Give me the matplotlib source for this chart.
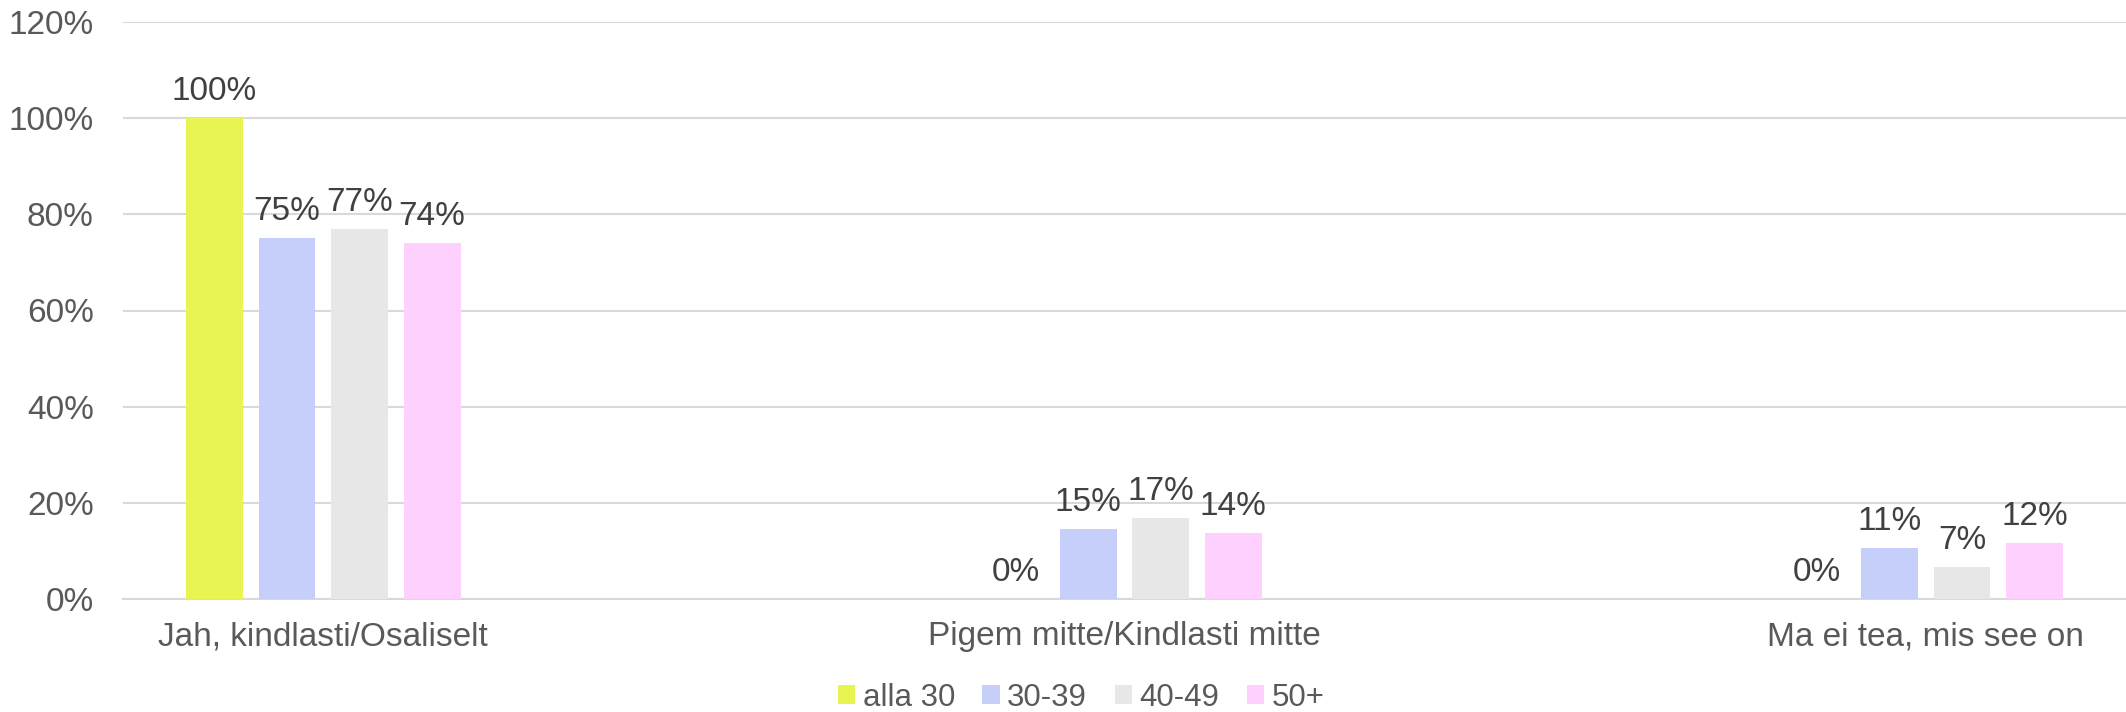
import numpy as np
import matplotlib.pyplot as plt

categories = ["Jah, kindlasti/Osaliselt", "Pigem mitte/Kindlasti mitte", "Ma ei tea, mis see on"]
groups = ["alla 30", "30-39", "40-49", "50+"]
alla_30 = [100, 0, 0]
age_30_39 = [75, 14.6, 10.6]
age_40_49 = [77, 16.8, 6.6]
age_50_plus = [74, 13.7, 11.6]
series = [alla_30, age_30_39, age_40_49, age_50_plus]
colors = ["#E8F452", "#C6CEFA", "#E7E7E7", "#FDD0FD"]

plt.rcParams['font.family'] = ['Liberation Sans', 'DejaVu Sans']

fig = plt.figure(figsize=(21.26, 7.12), dpi=100)
ax = fig.add_axes([123 / 2126, 1 - 599 / 712, (2126 - 123) / 2126, (599 - 22) / 712])

x = np.arange(len(categories))
width = 0.071
step = 0.0906
for i, (vals, col, name) in enumerate(zip(series, colors, groups)):
    pos = x + (i - 1.5) * step
    bars = ax.bar(pos, vals, width, color=col, label=name, zorder=3)
    for b, v in zip(bars, vals):
        ax.annotate(f"{v:.0f}%", (b.get_x() + b.get_width() / 2, v),
                    xytext=(0, 8), textcoords="offset points",
                    ha="center", va="bottom", fontsize=24, color="#404040")

ax.set_xlim(-0.25, 2.25)
ax.set_ylim(0, 120)
ax.set_yticks(np.arange(0, 121, 20))
ax.set_yticklabels([f"{t}%" for t in range(0, 121, 20)])
ax.set_xticks(x)
ax.set_xticklabels(categories)
ax.tick_params(axis="both", length=0, labelsize=24, labelcolor="#595959")
ax.tick_params(axis="y", pad=21)
ax.tick_params(axis="x", pad=16)
ax.yaxis.grid(True, color="#D9D9D9", linewidth=1.5, zorder=0)
for s in ["top", "right", "left"]:
    ax.spines[s].set_visible(False)
ax.spines["bottom"].set_color("#D9D9D9")
ax.spines["bottom"].set_linewidth(1.5)

fig.legend(loc="center", bbox_to_anchor=(1081 / 2126, 1 - 698 / 712), ncol=4,
           frameon=False, fontsize=22.5, labelcolor="#595959",
           handlelength=0.56, handleheight=0.56, handletextpad=0.23, columnspacing=0.88)

fig.savefig("out.png", dpi=100)
